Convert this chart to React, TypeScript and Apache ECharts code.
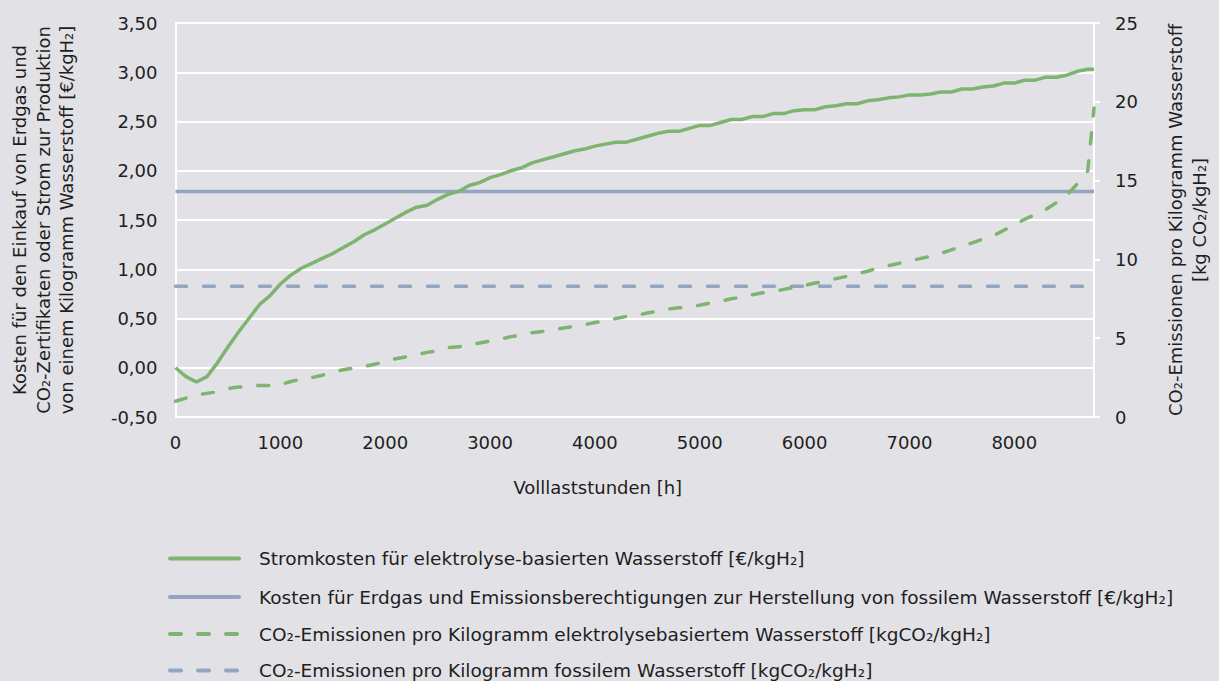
import React, { useEffect, useRef } from "react";
import * as echarts from "echarts";

const hours = [
  0, 100, 200, 300, 400, 500, 600, 700, 800, 900,
  1000, 1100, 1200, 1300, 1400, 1500, 1600, 1700, 1800, 1900,
  2000, 2100, 2200, 2300, 2400, 2500, 2600, 2700, 2800, 2900,
  3000, 3100, 3200, 3300, 3400, 3500, 3600, 3700, 3800, 3900,
  4000, 4100, 4200, 4300, 4400, 4500, 4600, 4700, 4800, 4900,
  5000, 5100, 5200, 5300, 5400, 5500, 5600, 5700, 5800, 5900,
  6000, 6100, 6200, 6300, 6400, 6500, 6600, 6700, 6800, 6900,
  7000, 7100, 7200, 7300, 7400, 7500, 7600, 7700, 7800, 7900,
  8000, 8100, 8200, 8300, 8400, 8500, 8600, 8700, 8760,
];

// Stromkosten für elektrolyse-basierten Wasserstoff [€/kgH2]
const stromkosten = [
  0.0, -0.09, -0.145, -0.09, 0.05, 0.21, 0.36, 0.5, 0.64, 0.73,
  0.85, 0.94, 1.01, 1.06, 1.11, 1.16, 1.22, 1.28, 1.35, 1.4,
  1.46, 1.52, 1.58, 1.63, 1.65, 1.71, 1.76, 1.79, 1.85, 1.88,
  1.93, 1.96, 2.0, 2.03, 2.08, 2.11, 2.14, 2.17, 2.2, 2.22,
  2.25, 2.27, 2.29, 2.29, 2.32, 2.35, 2.38, 2.4, 2.4, 2.43,
  2.46, 2.46, 2.49, 2.52, 2.52, 2.55, 2.55, 2.58, 2.58, 2.61,
  2.62, 2.62, 2.65, 2.66, 2.68, 2.68, 2.71, 2.72, 2.74, 2.75,
  2.77, 2.77, 2.78, 2.8, 2.8, 2.83, 2.83, 2.85, 2.86, 2.89,
  2.89, 2.92, 2.92, 2.95, 2.95, 2.97, 3.01, 3.03, 3.03,
];

// CO2-Emissionen pro kg elektrolysebasiertem Wasserstoff [kgCO2/kgH2]
const co2Elektrolyse = [
  1.0, 1.2, 1.4, 1.5, 1.6, 1.8, 1.9, 1.95, 2.0, 2.0,
  2.05, 2.25, 2.4, 2.5, 2.65, 2.85, 3.0, 3.1, 3.2, 3.35,
  3.5, 3.7, 3.82, 3.95, 4.1, 4.2, 4.4, 4.45, 4.55, 4.7,
  4.82, 4.95, 5.1, 5.2, 5.35, 5.43, 5.5, 5.65, 5.75, 5.85,
  6.0, 6.1, 6.25, 6.38, 6.45, 6.6, 6.72, 6.85, 6.93, 6.95,
  7.1, 7.23, 7.35, 7.5, 7.6, 7.75, 7.88, 7.95, 8.1, 8.23,
  8.35, 8.5, 8.62, 8.78, 8.92, 9.1, 9.25, 9.45, 9.6, 9.75,
  9.9, 10.05, 10.2, 10.38, 10.6, 10.85, 11.05, 11.3, 11.5, 11.85,
  12.2, 12.55, 12.85, 13.17, 13.6, 14.05, 14.8, 15.6, 19.6,
];

const fossilKosten = 1.79; // €/kgH2
const fossilCO2 = 8.3; // kgCO2/kgH2
const xRange = [0, 8760];

const leftTicks = { min: -0.5, max: 3.5, interval: 0.5 };
const rightTicks = { min: 0, max: 25, interval: 5 };

const names = [
  "Stromkosten für elektrolyse-basierten Wasserstoff [€/kgH₂]",
  "Kosten für Erdgas und Emissionsberechtigungen zur Herstellung von fossilem Wasserstoff [€/kgH₂]",
  "CO₂-Emissionen pro Kilogramm elektrolysebasiertem Wasserstoff [kgCO₂/kgH₂]",
  "CO₂-Emissionen pro Kilogramm fossilem Wasserstoff [kgCO₂/kgH₂]",
];

const GREEN = "#7db46f";
const BLUE = "#93a5c0";
const BG = "#e2e1e6";
const TEXT = "#1e1e1e";
const FONT = "DejaVu Sans";
const FS = 18;

const DASH = [11, 17];

export default function App() {
  const ref = useRef<HTMLDivElement>(null);
  useEffect(() => {
    if (!ref.current) return;
    const chart = echarts.init(ref.current, null, { renderer: "svg" });
    const pairs = (xs: number[], ys: number[]) => xs.map((x, i) => [x, ys[i]]);

    const legendStyles = [
      { color: GREEN, dash: null },
      { color: BLUE, dash: null },
      { color: GREEN, dash: DASH },
      { color: BLUE, dash: DASH },
    ];
    const legendRows = [558.5, 597, 634, 670.5];
    const legendGraphics: any[] = [];
    names.forEach((n, i) => {
      const st = legendStyles[i];
      legendGraphics.push({
        type: "line",
        shape: { x1: 170, y1: legendRows[i], x2: 239, y2: legendRows[i] },
        style: {
          stroke: st.color,
          lineWidth: 4,
          lineCap: "round",
          lineDash: st.dash || undefined,
        },
      });
      legendGraphics.push({
        type: "text",
        x: 259,
        y: legendRows[i],
        style: {
          text: n,
          fill: TEXT,
          fontFamily: FONT,
          fontSize: 18.5,
          lineHeight: 20,
          verticalAlign: "middle",
          align: "left",
        },
      });
    });

    chart.setOption({
      animation: false,
      backgroundColor: BG,
      textStyle: { fontFamily: FONT, color: TEXT },
      grid: { left: 175, right: 114, top: 23, bottom: 264 },
      graphic: legendGraphics,
      xAxis: {
        type: "value",
        min: xRange[0],
        max: xRange[1],
        interval: 1000,
        name: "Volllaststunden [h]",
        nameLocation: "middle",
        nameGap: 61,
        nameTextStyle: { fontSize: FS, color: TEXT, padding: [0, 74, 0, 0] },
        axisLine: { show: false },
        axisTick: { show: false },
        splitLine: { show: false },
        axisLabel: {
          fontSize: FS,
          color: TEXT,
          margin: 16,
          showMaxLabel: false,
          formatter: (v: number) => String(v),
        },
      },
      yAxis: [
        {
          type: "value",
          position: "left",
          min: leftTicks.min,
          max: leftTicks.max,
          interval: leftTicks.interval,
          name:
            "Kosten für den Einkauf von Erdgas und\nCO₂-Zertifikaten oder Strom zur Produktion\nvon einem Kilogramm Wasserstoff [€/kgH₂]",
          nameLocation: "middle",
          nameRotate: 90,
          nameGap: 97,
          nameTextStyle: { fontSize: FS, color: TEXT, lineHeight: 23.5 },
          axisLine: { show: true, lineStyle: { color: "#ffffff", width: 2 } },
          axisTick: { show: false },
          splitLine: { show: true, lineStyle: { color: "#ffffff", width: 2 } },
          axisLabel: {
            fontSize: FS,
            color: TEXT,
            margin: 18,
            formatter: (v: number) => v.toFixed(2).replace(".", ","),
          },
        },
        {
          type: "value",
          position: "right",
          min: rightTicks.min,
          max: rightTicks.max,
          interval: rightTicks.interval,
          name: "CO₂-Emissionen pro Kilogramm Wasserstoff\n[kg CO₂/kgH₂]",
          nameLocation: "middle",
          nameRotate: 90,
          nameGap: 70,
          nameTextStyle: { fontSize: FS, color: TEXT, lineHeight: 23.5 },
          axisLine: { show: true, lineStyle: { color: "#ffffff", width: 2 } },
          axisTick: { show: true, length: 6, lineStyle: { color: "#ffffff", width: 2 } },
          splitLine: { show: false },
          axisLabel: { fontSize: FS, color: TEXT, margin: 21 },
        },
      ],
      series: [
        {
          name: names[0],
          type: "line",
          yAxisIndex: 0,
          showSymbol: false,
          symbol: "none",
          data: pairs(hours, stromkosten),
          lineStyle: { color: GREEN, width: 3.5 },
          itemStyle: { color: GREEN },
          z: 4,
        },
        {
          name: names[1],
          type: "line",
          yAxisIndex: 0,
          showSymbol: false,
          symbol: "none",
          data: [
            [xRange[0], fossilKosten],
            [xRange[1], fossilKosten],
          ],
          lineStyle: { color: BLUE, width: 3.5 },
          itemStyle: { color: BLUE },
          z: 2,
        },
        {
          name: names[2],
          type: "line",
          yAxisIndex: 1,
          showSymbol: false,
          symbol: "none",
          data: pairs(hours, co2Elektrolyse),
          lineStyle: { color: GREEN, width: 3.5, type: DASH, cap: "round" },
          itemStyle: { color: GREEN },
          z: 4,
        },
        {
          name: names[3],
          type: "line",
          yAxisIndex: 1,
          showSymbol: false,
          symbol: "none",
          data: [
            [xRange[0], fossilCO2],
            [xRange[1], fossilCO2],
          ],
          lineStyle: { color: BLUE, width: 3.5, type: DASH, cap: "round" },
          itemStyle: { color: BLUE },
          z: 2,
        },
      ],
    });
    return () => chart.dispose();
  }, []);
  return <div ref={ref} style={{ width: 1219, height: 681, position: "absolute", left: 0, top: 0 }} />;
}
